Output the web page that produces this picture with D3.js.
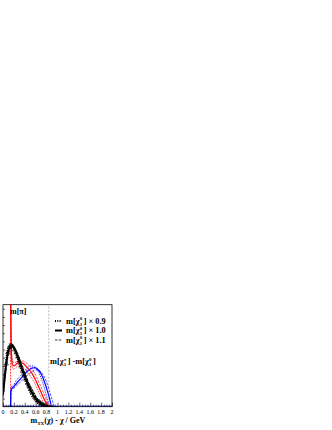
<!DOCTYPE html>
<html>
<head>
<meta charset="utf-8">
<script src="https://cdn.jsdelivr.net/npm/d3@7"></script>
<style>
  html, body { margin: 0; padding: 0; background: #fff; }
  svg { display: block; }
</style>
</head>
<body>
<svg id="chart" width="332" height="430"></svg>
<script>
// x in GeV, y in arbitrary units (0..100 = frame height)
var blackX = [0, 0.04, 0.08, 0.12, 0.16, 0.2, 0.25, 0.3, 0.35, 0.4, 0.45, 0.5, 0.55, 0.6, 0.65, 0.7, 0.75, 0.8, 0.85, 0.9];
var black09 = [14, 37, 54, 61, 61, 57, 50, 42, 34, 27, 20, 14, 9, 6, 3, 1.5, 0.5, 0, 0, 0];
var black10 = [12, 33, 50, 58, 60, 58, 52, 45, 37, 30, 23, 17, 12, 8, 5, 3, 1.5, 0.5, 0, 0];
var black11 = [10, 29, 46, 55, 58, 57, 53, 47, 40, 33, 26, 20, 15, 10, 7, 4.5, 2.5, 1, 0.2, 0];

var markerX = [0.06, 0.09, 0.12, 0.15, 0.18, 0.21, 0.24, 0.27, 0.30, 0.33, 0.36, 0.39, 0.42, 0.45, 0.48, 0.51, 0.54, 0.57, 0.60, 0.63, 0.66, 0.69, 0.72, 0.75, 0.78];
var markerY = [42, 53, 58, 60, 59, 56, 53, 49, 45, 40, 35, 31, 27, 23, 20, 17, 14, 11, 8, 6, 5, 3.5, 2.5, 1.5, 1];

var redX = [0.14, 0.15, 0.17, 0.2, 0.25, 0.3, 0.35, 0.4, 0.45, 0.5, 0.55, 0.6, 0.65, 0.7, 0.75, 0.8, 0.85, 0.9];
var red09 = [110, 55, 38, 37, 39, 40, 39, 37, 34, 30, 26, 21, 15, 9, 4, 0.5, 0, 0];
var red10 = [110, 60, 42, 40, 42, 43, 43, 41, 38, 35, 31, 26, 20, 14, 8, 3, 0, 0];
var red11 = [110, 65, 45, 43, 44, 45, 45, 44, 42, 39, 35, 31, 25, 19, 13, 6, 1, 0];

var blueX = [0.14, 0.145, 0.2, 0.25, 0.3, 0.35, 0.4, 0.45, 0.5, 0.55, 0.6, 0.65, 0.7, 0.75, 0.8, 0.85, 0.9, 0.95, 1.0];
var blue09 = [0, 18, 22, 26, 29, 32, 35, 38, 40, 40, 38, 34, 28, 20, 10, 2, 0, 0, 0];
var blue10 = [0, 16, 20, 23, 26, 29, 32, 35, 37, 38, 38, 36, 32, 26, 18, 9, 0, 0, 0];
var blue11 = [0, 14, 18, 21, 23, 26, 29, 31, 33, 35, 36, 36, 34, 30, 24, 16, 7, 0, 0];

var xTicks = [0, 0.2, 0.4, 0.6, 0.8, 1, 1.2, 1.4, 1.6, 1.8, 2];
var xTickLabels = ["0", "0.2", "0.4", "0.6", "0.8", "1", "1.2", "1.4", "1.6", "1.8", "2"];
var scaleFactors = ["0.9", "1.0", "1.1"];

var mPi = 0.1396;
var mSplit = 0.84;

var svg = d3.select("#chart");
var serif = "'Liberation Serif', 'DejaVu Serif', serif";

var x = d3.scaleLinear().domain([0, 2]).range([3, 112]);
var y = d3.scaleLinear().domain([0, 100]).range([406.7, 304.7]);

svg.append("clipPath").attr("id", "frameClip")
  .append("rect")
  .attr("x", x(0)).attr("y", y(100))
  .attr("width", x(2) - x(0)).attr("height", y(0) - y(100));

// line styles for x0.9 (dotted), x1.0 (solid), x1.1 (dashed)
var styles = [
  {width: 2, dash: "1,1.3"},
  {width: 2, dash: null},
  {width: 0.8, dash: "2.5,1.2"}
];
var thinStyles = [
  {width: 0.9, dash: "1,1"},
  {width: 1.2, dash: null},
  {width: 0.7, dash: "2.5,1.2"}
];

var line = d3.line()
  .x(function (d) { return x(d[0]); })
  .y(function (d) { return y(d[1]); })
  .curve(d3.curveMonotoneX);

var plot = svg.append("g").attr("clip-path", "url(#frameClip)");

// reference lines
plot.append("line")
  .attr("x1", x(mSplit)).attr("x2", x(mSplit))
  .attr("y1", y(0)).attr("y2", y(100))
  .attr("stroke", "#999").attr("stroke-width", 0.7).attr("stroke-dasharray", "2,1.5");

plot.append("line")
  .attr("x1", x(mPi)).attr("x2", x(mPi))
  .attr("y1", y(0)).attr("y2", y(100))
  .attr("stroke", "#f00").attr("stroke-width", 0.8).attr("stroke-dasharray", "2,1");

// zero level of the histograms
plot.append("line")
  .attr("x1", x(0)).attr("x2", x(2))
  .attr("y1", y(0) - 0.5).attr("y2", y(0) - 0.5)
  .attr("stroke", "#00f").attr("stroke-width", 1);

function drawSet(xs, sets, color, st) {
  sets.forEach(function (vals, i) {
    var pts = xs.map(function (v, k) { return [v, vals[k]]; });
    plot.append("path")
      .attr("d", line(pts))
      .attr("fill", "none")
      .attr("stroke", color)
      .attr("stroke-width", st[i].width)
      .attr("stroke-dasharray", st[i].dash);
  });
}

drawSet(blueX, [blue09, blue10, blue11], "#00f", thinStyles);
drawSet(redX, [red09, red10, red11], "#f00", thinStyles);
drawSet(blackX, [black09, black10, black11], "#000", styles);

// black markers
var tri = d3.symbol().type(d3.symbolTriangle).size(8);
plot.selectAll(".mk")
  .data(markerX.map(function (v, k) { return [v, markerY[k]]; }))
  .enter().append("path")
  .attr("class", "mk")
  .attr("d", tri)
  .attr("transform", function (d) { return "translate(" + x(d[0]) + "," + y(d[1]) + ")"; })
  .attr("fill", "none").attr("stroke", "#000").attr("stroke-width", 0.6);

// frame
svg.append("rect")
  .attr("x", x(0)).attr("y", y(100))
  .attr("width", x(2) - x(0)).attr("height", y(0) - y(100))
  .attr("fill", "none").attr("stroke", "#000").attr("stroke-width", 0.8);

// x axis (ticks inward)
var xAxisG = svg.append("g").attr("transform", "translate(0," + y(0) + ")")
  .call(d3.axisTop(x).tickValues(xTicks).tickSize(4).tickFormat(""));
var minorX = [0.05, 0.1, 0.15, 0.25, 0.3, 0.35, 0.45, 0.5, 0.55, 0.65, 0.7, 0.75, 0.85, 0.9, 0.95,
  1.05, 1.1, 1.15, 1.25, 1.3, 1.35, 1.45, 1.5, 1.55, 1.65, 1.7, 1.75, 1.85, 1.9, 1.95];
svg.append("g").attr("transform", "translate(0," + y(0) + ")")
  .call(d3.axisTop(x).tickValues(minorX).tickSize(2).tickFormat(""));
svg.selectAll(".domain").remove();
svg.selectAll(".tick line").attr("stroke", "#000").attr("stroke-width", 0.6);

svg.append("g").selectAll("text")
  .data(xTicks)
  .enter().append("text")
  .attr("x", function (d) { return x(d); })
  .attr("y", 413.5)
  .attr("text-anchor", "middle")
  .style("font-family", serif)
  .style("font-size", "6px")
  .text(function (d, i) { return xTickLabels[i]; });

// y axis ticks (labels cropped in the original)
var yTicks = [8, 16, 24, 32, 40, 48, 56, 64, 72, 80, 88, 96];
var yAxisG = svg.append("g").attr("transform", "translate(" + x(0) + ",0)")
  .call(d3.axisRight(y).tickValues(yTicks).tickSize(2).tickFormat(""));
yAxisG.select(".domain").remove();
yAxisG.selectAll(".tick line").attr("stroke", "#000").attr("stroke-width", 0.6);

// axis title
var title = svg.append("text")
  .attr("x", 58).attr("y", 423)
  .attr("text-anchor", "middle")
  .style("font-family", serif).style("font-weight", "bold").style("font-size", "8px");
title.append("tspan").text("m");
title.append("tspan").attr("dy", 1.5).style("font-size", "5px").text("TX");
title.append("tspan").attr("dy", -1.5).text("(χ) - χ / GeV");

// m[pi] label
svg.append("text")
  .attr("x", 10).attr("y", 314)
  .style("font-family", serif).style("font-weight", "bold").style("font-size", "8px")
  .text("m[π]");

// label with stacked sup/sub index
function chiLabel(g, px, py, sup, sub, tail, size) {
  var t = g.append("text").attr("x", px).attr("y", py)
    .style("font-family", serif).style("font-weight", "bold").style("font-size", size + "px")
    .text("m[χ");
  var w = t.node().getComputedTextLength();
  g.append("text").attr("x", px + w + 0.2).attr("y", py - size * 0.42)
    .style("font-family", serif).style("font-weight", "bold").style("font-size", (size * 0.6) + "px")
    .text(sup);
  g.append("text").attr("x", px + w + 0.2).attr("y", py + size * 0.25)
    .style("font-family", serif).style("font-weight", "bold").style("font-size", (size * 0.6) + "px")
    .text(sub);
  var t2 = g.append("text").attr("x", px + w + size * 0.5).attr("y", py)
    .style("font-family", serif).style("font-weight", "bold").style("font-size", size + "px")
    .text(tail);
  return px + w + size * 0.5 + t2.node().getComputedTextLength();
}

var labels = svg.append("g");
var endX = chiLabel(labels, 50, 364, "±", "1", "] - ", 8.3);
chiLabel(labels, endX, 364, "0", "1", "]", 8.3);

// legend
var legendY = [323.5, 333, 342.5];
scaleFactors.forEach(function (f, i) {
  svg.append("line")
    .attr("x1", 55).attr("x2", 62)
    .attr("y1", legendY[i] - 2.5).attr("y2", legendY[i] - 2.5)
    .attr("stroke", "#000")
    .attr("stroke-width", styles[i].width)
    .attr("stroke-dasharray", styles[i].dash);
  chiLabel(svg, 66, legendY[i], "0", "1", "] × " + f, 8.3);
});
</script>
</body>
</html>
